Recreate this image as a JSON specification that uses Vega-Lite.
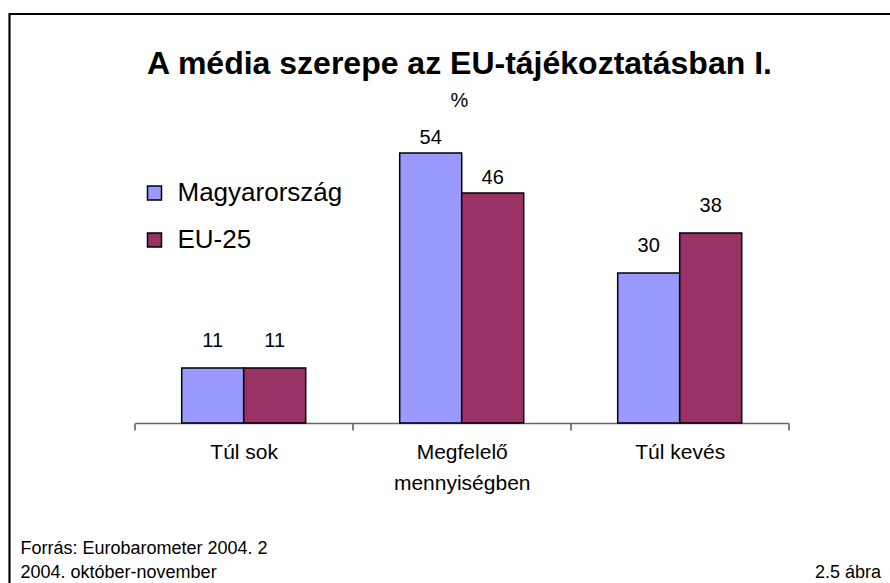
{
  "$schema": "https://vega.github.io/schema/vega-lite/v6.json",
  "autosize": "none",
  "padding": {"left": 9.5, "top": 14, "right": 0, "bottom": 0},
  "width": 900,
  "height": 600,
  "background": "white",
  "config": {
    "font": "Liberation Sans",
    "view": {"stroke": "black", "strokeWidth": 2.2}
  },
  "title": {
    "text": "A média szerepe az EU-tájékoztatásban I.",
    "subtitle": "%",
    "anchor": "middle",
    "frame": "group",
    "font": "Liberation Sans",
    "fontSize": 32,
    "fontWeight": "bold",
    "color": "black",
    "subtitleFont": "Liberation Sans",
    "subtitleFontSize": 20,
    "subtitleColor": "black",
    "subtitlePadding": 10,
    "offset": -98
  },
  "data": {
    "values": [
      {"category": "Túl sok", "series": "Magyarország", "value": 11},
      {"category": "Túl sok", "series": "EU-25", "value": 11},
      {"category": "Megfelelő mennyiségben", "series": "Magyarország", "value": 54},
      {"category": "Megfelelő mennyiségben", "series": "EU-25", "value": 46},
      {"category": "Túl kevés", "series": "Magyarország", "value": 30},
      {"category": "Túl kevés", "series": "EU-25", "value": 38}
    ]
  },
  "encoding": {
    "x": {
      "field": "category",
      "type": "nominal",
      "sort": ["Túl sok", "Megfelelő mennyiségben", "Túl kevés"],
      "scale": {"range": [125.2, 779.2], "paddingInner": 0, "paddingOuter": 0},
      "axis": {
        "orient": "bottom",
        "offset": -191,
        "domainColor": "#666666",
        "domainWidth": 1.5,
        "ticks": true,
        "tickColor": "#555555",
        "tickWidth": 1.5,
        "tickSize": 7,
        "tickBand": "extent",
        "labelAngle": 0,
        "labelFontSize": 21,
        "labelColor": "black",
        "labelPadding": 11,
        "labelLineHeight": 31,
        "labelExpr": "datum.label == 'Megfelelő mennyiségben' ? ['Megfelelő', 'mennyiségben'] : datum.label",
        "grid": false,
        "title": ["Forrás: Eurobarometer 2004. 2", "2004. október-november"],
        "titleFontSize": 18,
        "titleFontWeight": "normal",
        "titleColor": "black",
        "titleAlign": "left",
        "titleAnchor": "start",
        "titleBaseline": "alphabetic",
        "titleLineHeight": 24,
        "titleX": 10.5,
        "titleY": 130
      }
    },
    "xOffset": {
      "field": "series",
      "type": "nominal",
      "sort": ["Magyarország", "EU-25"],
      "scale": {"paddingInner": 0, "paddingOuter": 0.758}
    },
    "y": {
      "field": "value",
      "type": "quantitative",
      "scale": {"domain": [0, 60], "range": [409, 109], "nice": false, "zero": true},
      "axis": {
        "orient": "left",
        "domain": false,
        "ticks": false,
        "labels": false,
        "grid": false,
        "title": "2.5 ábra",
        "titleAngle": 0,
        "titleFontSize": 18,
        "titleFontWeight": "normal",
        "titleColor": "black",
        "titleAlign": "right",
        "titleBaseline": "alphabetic",
        "titleX": 871,
        "titleY": 563
      }
    }
  },
  "layer": [
    {
      "mark": {"type": "bar", "stroke": "black", "strokeWidth": 1.5},
      "encoding": {
        "color": {
          "field": "series",
          "type": "nominal",
          "sort": ["Magyarország", "EU-25"],
          "scale": {"domain": ["Magyarország", "EU-25"], "range": ["#9999FF", "#993366"]},
          "legend": {
            "orient": "none",
            "legendX": 132,
            "legendY": 166,
            "title": null,
            "symbolType": "square",
            "symbolSize": 196,
            "symbolStrokeColor": "black",
            "symbolStrokeWidth": 1.5,
            "labelFontSize": 26,
            "labelColor": "black",
            "labelOffset": 10,
            "labelLimit": 400,
            "rowPadding": 21
          }
        }
      }
    },
    {
      "transform": [{"filter": "datum.category == 'Megfelelő mennyiségben'"}],
      "mark": {"type": "text", "baseline": "alphabetic", "dy": -9, "fontSize": 20, "color": "black"},
      "encoding": {"text": {"field": "value", "type": "quantitative"}}
    },
    {
      "transform": [{"filter": "datum.category != 'Megfelelő mennyiségben'"}],
      "mark": {"type": "text", "baseline": "alphabetic", "dy": -21, "fontSize": 20, "color": "black"},
      "encoding": {"text": {"field": "value", "type": "quantitative"}}
    }
  ]
}
